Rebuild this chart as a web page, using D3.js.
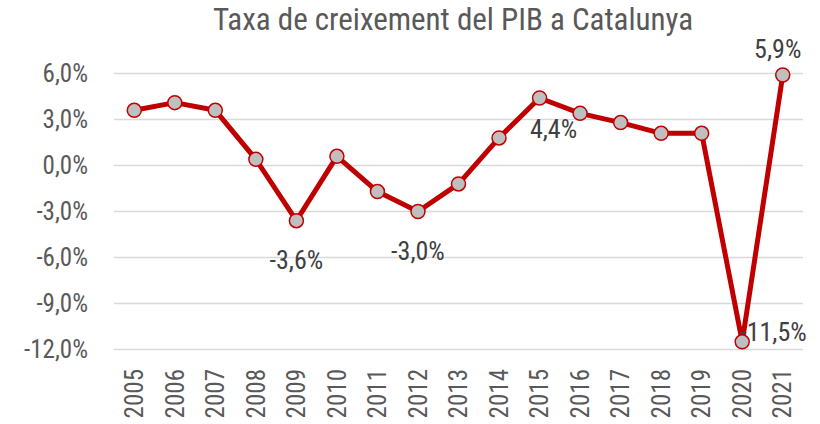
<!DOCTYPE html>
<html>
<head>
    <title>Taxa de creixement del PIB a Catalunya</title>
    <script src="https://d3js.org/d3.v7.min.js"></script>
    <style>
        body { margin: 0; background: #fff; }
        text { font-family: "Roboto Condensed", "Liberation Sans Narrow", "DejaVu Sans Condensed", sans-serif; fill: #595959; }
        .grid line { stroke: #d9d9d9; stroke-width: 1.5; }
    </style>
</head>
<body>
    <svg width="820" height="424"></svg>

    <script>
        const years = ["2005", "2006", "2007", "2008", "2009", "2010", "2011", "2012", "2013",
                       "2014", "2015", "2016", "2017", "2018", "2019", "2020", "2021"];
        const growth = [3.6, 4.1, 3.6, 0.4, -3.6, 0.6, -1.7, -3.0, -1.2,
                        1.8, 4.4, 3.4, 2.8, 2.1, 2.1, -11.5, 5.9];
        const yTicks = [6, 3, 0, -3, -6, -9, -12];
        // which points carry a value label, and where it sits
        const labelled = [
            { year: "2009", pos: "below" },
            { year: "2012", pos: "below" },
            { year: "2015", pos: "belowright" },
            { year: "2020", pos: "right" },
            { year: "2021", pos: "above" }
        ];

        const svg = d3.select("svg");
        const margin = { left: 114, right: 17, top: 73.5, bottom: 74.5 };
        const width = +svg.attr("width");
        const height = +svg.attr("height");

        const x = d3.scaleBand()
            .domain(years)
            .range([margin.left, width - margin.right]);

        const y = d3.scaleLinear()
            .domain([-12, 6])
            .range([height - margin.bottom, margin.top]);

        const fmt = v => d3.format(".1f")(v).replace(".", ",").replace("−", "-") + "%";

        // Title
        svg.append("text")
            .attr("x", 453)
            .attr("y", 30)
            .attr("text-anchor", "middle")
            .style("font-size", "31px")
            .text("Taxa de creixement del PIB a Catalunya");

        // Gridlines
        svg.append("g")
            .attr("class", "grid")
            .selectAll("line")
            .data(yTicks)
            .enter().append("line")
            .attr("x1", margin.left)
            .attr("x2", width - margin.right)
            .attr("y1", d => y(d))
            .attr("y2", d => y(d));

        // Y axis labels
        svg.append("g")
            .selectAll("text")
            .data(yTicks)
            .enter().append("text")
            .attr("x", 88)
            .attr("y", d => y(d))
            .attr("dy", "0.35em")
            .attr("text-anchor", "end")
            .style("font-size", "25px")
            .text(d => fmt(d));

        // X axis labels (rotated)
        svg.append("g")
            .selectAll("text")
            .data(years)
            .enter().append("text")
            .attr("transform", d => `translate(${x(d) + x.bandwidth() / 2}, 369) rotate(-90)`)
            .attr("dy", "0.35em")
            .attr("text-anchor", "end")
            .style("font-size", "25px")
            .text(d => d);

        const cx = (d, i) => x(years[i]) + x.bandwidth() / 2;

        // Line
        const line = d3.line()
            .x((d, i) => cx(d, i))
            .y(d => y(d));

        svg.append("path")
            .datum(growth)
            .attr("fill", "none")
            .attr("stroke", "#c00000")
            .attr("stroke-width", 5)
            .attr("stroke-linejoin", "round")
            .attr("d", line);

        // Markers
        svg.append("g")
            .selectAll("circle")
            .data(growth)
            .enter().append("circle")
            .attr("cx", (d, i) => cx(d, i))
            .attr("cy", d => y(d))
            .attr("r", 7)
            .attr("fill", "#bfbfbf")
            .attr("stroke", "#c00000")
            .attr("stroke-width", 1.5);

        // Data labels
        const offsets = {
            below: { dx: 0, dy: 48, anchor: "middle" },
            belowright: { dx: 14, dy: 40, anchor: "middle" },
            right: { dx: -2, dy: -1, anchor: "start" },
            above: { dx: -5, dy: -17, anchor: "middle" }
        };
        svg.append("g")
            .selectAll("text")
            .data(labelled)
            .enter().append("text")
            .attr("x", d => x(d.year) + x.bandwidth() / 2 + offsets[d.pos].dx)
            .attr("y", d => y(growth[years.indexOf(d.year)]) + offsets[d.pos].dy)
            .attr("text-anchor", d => offsets[d.pos].anchor)
            .style("font-size", "26px")
            .style("fill", "#404040")
            .text(d => fmt(growth[years.indexOf(d.year)]));
    </script>
</body>
</html>
